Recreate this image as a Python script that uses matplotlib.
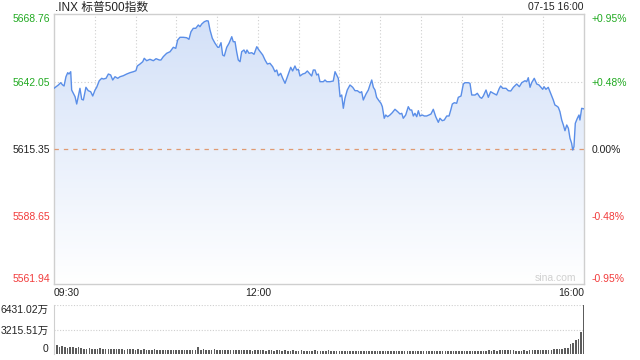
import numpy as np
import matplotlib.pyplot as plt
from matplotlib.patches import Polygon
from matplotlib.colors import LinearSegmentedColormap
import matplotlib.transforms as mtransforms

plt.rcParams['font.family'] = ['Liberation Sans', 'Noto Sans CJK SC', 'DejaVu Sans']

# intraday S&P 500 line: minutes after 09:30 and index level
minutes = [0, 3.2, 4.9, 6.4, 7.4, 8.8, 10.1, 11.0, 12.3, 13.0, 14.2, 15.5, 16.7, 17.9, 19.1, 20.4,
           21.6, 23.5, 25.2, 27.0, 28.5, 30.2, 31.4, 33.3, 35.1, 36.3, 38.3, 40.0, 41.7, 43.2, 44.9,
           46.9, 48.6, 51.0, 53.5, 55.9, 58.4, 60.3, 61.3, 63.3, 65.3, 66.4, 68.2, 70.6, 73.1, 75.1,
           77.5, 78.7, 80.4, 82.9, 85.4, 87.8, 89.6, 91.0, 92.7, 95.1, 97.6, 99.3, 100.8, 102.5,
           104.3, 106.2, 107.4, 108.7, 110.6, 112.4, 113.5, 114.8, 116.5, 118.5, 120.5, 121.4,
           122.9, 124.1, 125.3, 127.1, 128.8, 130.8, 131.9, 133.2, 134.4, 135.6, 136.9, 138.1,
           139.8, 141.1, 142.0, 143.5, 145.5, 147.2, 149.2, 150.8, 152.3, 153.6, 155.3, 157.0,
           158.9, 160.9, 162.6, 163.9, 165.1, 166.8, 168.3, 170.0, 171.7, 174.2, 175.6, 177.3,
           178.6, 179.8, 181.0, 183.0, 184.7, 186.4, 187.9, 189.6, 190.8, 192.1, 193.3, 194.5,
           195.7, 198.2, 199.4, 200.7, 203.1, 205.5, 206.8, 208.0, 209.2, 210.5, 211.7, 212.9,
           214.1, 215.8, 217.8, 219.8, 221.5, 223.2, 225.2, 226.4, 227.6, 229.6, 231.3, 232.5,
           233.8, 235.0, 236.2, 237.4, 239.1, 240.6, 241.6, 243.0, 244.1, 245.5, 247.2, 248.9,
           250.9, 252.9, 254.6, 255.9, 257.0, 258.8, 260.7, 262.0, 263.2, 264.4, 265.6, 266.9,
           268.1, 269.3, 271.0, 272.5, 274.2, 275.9, 277.4, 279.1, 280.9, 282.8, 284.0, 285.7,
           287.2, 289.0, 290.7, 292.1, 293.1, 294.6, 296.3, 297.5, 299.5, 301.2, 302.4, 304.9,
           306.1, 307.4, 309.8, 311.5, 313.5, 314.7, 315.9, 317.9, 319.6, 321.3, 323.3, 325.7,
           327.7, 328.7, 330.2, 332.6, 334.3, 336.1, 338.0, 340.5, 342.4, 344.2, 346.6, 347.8,
           349.0, 350.3, 351.5, 353.4, 355.2, 356.9, 358.4, 359.6, 360.6, 362.0, 363.7, 365.0,
           366.2, 367.4, 368.6, 369.9, 371.1, 372.3, 373.6, 374.8, 376.0, 377.3, 378.5, 379.7,
           380.9, 381.7, 382.6, 383.6, 385.1, 386.3, 387.0, 388.3, 390.0]
prices = [5639.36, 5640.67, 5641.58, 5640.67, 5640.28, 5643.95, 5645.54, 5645.02, 5645.93, 5638.69,
          5637.39, 5636.04, 5633.15, 5636.32, 5639.36, 5635.01, 5634.74, 5639.76, 5638.42, 5638.02,
          5636.32, 5638.69, 5639.76, 5642.37, 5643.32, 5643.04, 5643.32, 5645.02, 5644.63, 5642.65,
          5643.95, 5643.32, 5643.95, 5644.35, 5645.02, 5645.54, 5645.93, 5646.33, 5648.19, 5648.98,
          5649.89, 5651.23, 5650.28, 5650.84, 5650.28, 5651.08, 5650.56, 5650.56, 5651.87, 5653.21,
          5653.84, 5655.59, 5655.19, 5658.47, 5659.54, 5659.54, 5659.38, 5658.75, 5661.76, 5663.10,
          5663.10, 5664.41, 5663.74, 5664.80, 5665.71, 5666.11, 5665.99, 5662.43, 5659.15, 5657.17,
          5655.59, 5655.59, 5657.41, 5652.54, 5652.14, 5655.59, 5657.17, 5659.78, 5657.80, 5657.80,
          5653.84, 5650.56, 5649.89, 5653.84, 5654.52, 5653.21, 5654.52, 5653.21, 5653.45, 5652.82,
          5655.82, 5654.52, 5653.45, 5652.54, 5650.56, 5648.98, 5649.26, 5647.91, 5645.93, 5646.60,
          5644.35, 5645.30, 5643.32, 5641.34, 5643.95, 5647.67, 5646.21, 5648.19, 5646.60, 5646.88,
          5644.23, 5645.02, 5645.30, 5646.21, 5645.30, 5644.23, 5646.60, 5646.60, 5644.63, 5645.02,
          5641.98, 5641.98, 5642.65, 5641.98, 5641.98, 5642.25, 5645.93, 5644.63, 5643.32, 5636.04,
          5636.71, 5631.45, 5635.41, 5638.69, 5640.67, 5639.76, 5638.42, 5638.42, 5637.62, 5638.02,
          5634.74, 5637.11, 5638.69, 5640.67, 5642.65, 5639.76, 5638.69, 5635.80, 5634.46, 5633.43,
          5632.09, 5627.50, 5628.80, 5628.13, 5628.80, 5629.71, 5631.06, 5630.11, 5629.20, 5629.47,
          5627.50, 5628.80, 5632.09, 5630.78, 5630.78, 5628.41, 5629.47, 5628.13, 5630.50, 5628.41,
          5628.80, 5628.41, 5628.41, 5628.80, 5629.20, 5631.06, 5628.13, 5625.91, 5627.50, 5626.55,
          5626.82, 5628.41, 5628.41, 5631.06, 5633.15, 5633.67, 5633.43, 5635.80, 5636.32, 5641.07,
          5641.58, 5641.58, 5641.34, 5636.71, 5636.71, 5637.39, 5635.80, 5635.41, 5636.32, 5638.69,
          5635.80, 5638.02, 5637.39, 5636.71, 5639.36, 5640.28, 5639.36, 5639.36, 5638.42, 5638.30,
          5639.76, 5641.07, 5640.00, 5641.58, 5642.37, 5641.98, 5643.56, 5639.76, 5641.58, 5643.32,
          5641.07, 5640.67, 5639.76, 5638.97, 5640.00, 5638.97, 5639.76, 5638.02, 5636.32, 5634.74,
          5632.76, 5632.36, 5631.85, 5630.11, 5626.82, 5624.85, 5622.59, 5624.85, 5623.54, 5619.58,
          5617.60, 5614.95, 5616.26, 5625.52, 5627.50, 5628.80, 5626.82, 5631.45, 5631.22]

prev_close = 5615.35
price_ticks = [5561.94, 5588.65, 5615.35, 5642.05, 5668.76]
price_labels = ['5561.94', '5588.65', '5615.35', '5642.05', '5668.76']
pct_labels = ['-0.95%', '-0.48%', '0.00%', '+0.48%', '+0.95%']
tick_colors = ['#f23c3c', '#f23c3c', '#222222', '#22aa22', '#22aa22']
grid_minutes = [30, 60, 90, 120, 150, 180, 210, 240, 270, 300, 330, 360]
time_labels = ['09:30', '12:00', '16:00']
time_label_minutes = [0, 150, 390]

# volume bars every 2 minutes, in 万
vol_minutes = np.arange(0, 391, 2)
volumes = [1100, 1230, 980, 1050, 920, 850, 960, 870, 820, 900,
           760, 700, 690, 780, 720, 650, 700, 740, 680, 620,
           690, 640, 600, 670, 720, 610, 580, 640, 600, 650,
           560, 600, 540, 620, 580, 520, 560, 600, 530, 570,
           550, 520, 580, 540, 500, 560, 530, 490, 550, 520,
           480, 510, 470, 980, 560, 600, 520, 570, 540, 600,
           530, 560, 500, 590, 540, 510, 480, 560, 520, 500,
           470, 540, 490, 450, 520, 560, 500, 470, 430, 520,
           480, 440, 500, 460, 430, 490, 450, 420, 470, 440,
           410, 460, 430, 400, 450, 420, 480, 440, 410, 400,
           430, 460, 420, 390, 440, 410, 450, 430, 400, 420,
           440, 410, 390, 430, 400, 420, 450, 410, 440, 400,
           380, 420, 400, 430, 390, 410, 440, 420, 400, 380,
           410, 390, 430, 400, 420, 380, 410, 440, 400, 390,
           420, 400, 380, 430, 410, 390, 420, 400, 430, 410,
           400, 420, 390, 440, 410, 430, 400, 420, 450, 430,
           460, 440, 480, 450, 500, 470, 520, 490, 540, 510,
           420, 450, 430, 470, 450, 490, 470, 500, 520, 540,
           500, 560, 580, 540, 600, 620, 650, 680, 750, 790,
           1270, 1400, 1830, 1920, 2900, 6431.02]
vol_ticks = [0, 3215.51, 6431.02]
vol_labels = ['0', '3215.51万', '6431.02万']

grid_c = '#cfcfcf'
line_c = '#5a8ee8'
text_c = '#222222'
ymin, ymax = price_ticks[0], price_ticks[-1]

fig = plt.figure(figsize=(6.4, 3.6), dpi=100)
ax = fig.add_axes([54/640, 1 - 284/360, 530/640, 270/360])
ax.set_xlim(0, 390)
ax.set_ylim(ymin, ymax)

# grid
for m in grid_minutes:
    ax.axvline(m, color=grid_c, lw=0.8, ls=(0, (1, 2)), zorder=0)
for p in price_ticks[1:-1]:
    ax.axhline(p, color=grid_c, lw=0.8, ls=(0, (1, 2)), zorder=0)
ax.axhline(prev_close, color='#e09a72', lw=0.9, ls=(0, (3.5, 4)), zorder=3)

# gradient fill under the line
verts = [(minutes[0], ymin)] + list(zip(minutes, prices)) + [(minutes[-1], ymin)]
poly = Polygon(verts, closed=True, facecolor='none', edgecolor='none')
ax.add_patch(poly)
cmap = LinearSegmentedColormap.from_list('fill', ['#ffffff', '#d2e0f8'])
grad = np.linspace(0, 1, 256).reshape(-1, 1)
im = ax.imshow(grad, extent=[0, 390, ymin, ymax], origin='lower', aspect='auto',
               cmap=cmap, zorder=1, interpolation='bilinear')
im.set_clip_path(poly)
ax.plot(minutes, prices, color=line_c, lw=1.0, zorder=4)

for s in ax.spines.values():
    s.set_color(grid_c)
    s.set_linewidth(1)

ax.set_xticks([])
ax.set_yticks(price_ticks, labels=price_labels)
ax.tick_params(axis='y', length=0, pad=3, labelsize=7.5)
for lbl, c in zip(ax.get_yticklabels(), tick_colors):
    lbl.set_color(c)
ax.get_yticklabels()[0].set_va('bottom')
ax.get_yticklabels()[-1].set_va('top')

ax_r = ax.twinx()
ax_r.set_ylim(ymin, ymax)
ax_r.set_yticks(price_ticks, labels=pct_labels)
ax_r.tick_params(axis='y', length=0, pad=5.5, labelsize=7.5)
for lbl, c in zip(ax_r.get_yticklabels(), tick_colors):
    lbl.set_color(c)
ax_r.get_yticklabels()[0].set_va('bottom')
ax_r.get_yticklabels()[-1].set_va('top')
for s in ax_r.spines.values():
    s.set_visible(False)

# time labels under the chart
trans = mtransforms.blended_transform_factory(ax.transData, ax.transAxes)
for m, t, ha in zip(time_label_minutes, time_labels, ['left', 'center', 'right']):
    ax.text(m, -0.033, t, transform=trans, ha=ha, va='center', fontsize=7.5, color=text_c)

fig.text(55/640, 1 - 7.5/360, '.INX 标普500指数', ha='left', va='center', fontsize=8.5, color=text_c)
fig.text(584/640, 1 - 7.5/360, '07-15 16:00', ha='right', va='center', fontsize=7.5, color=text_c)
ax.text(0.985, 0.022, 'sina.com', transform=ax.transAxes, ha='right', va='center',
        fontsize=7.5, color='#d0d0d0', zorder=5)

# volume panel
axv = fig.add_axes([54/640, 1 - 354/360, 530/640, 49/360])
axv.set_xlim(0, 390)
axv.set_ylim(0, vol_ticks[-1])
for v in vol_ticks[1:]:
    axv.axhline(v, color=grid_c, lw=0.8, ls=(0, (1, 1.5)), zorder=0)
axv.bar(vol_minutes, volumes, width=1.2, color='#5c5c5c', zorder=2)
axv.set_xticks([])
axv.set_yticks(vol_ticks, labels=vol_labels)
axv.tick_params(axis='y', length=0, pad=4, labelsize=7.5, labelcolor=text_c)
axv.get_yticklabels()[0].set_va('bottom')
axv.get_yticklabels()[-1].set_va('top')
for side in ['top', 'right', 'bottom']:
    axv.spines[side].set_visible(False)
axv.spines['left'].set_color(grid_c)

fig.savefig('out.png', dpi=100)
